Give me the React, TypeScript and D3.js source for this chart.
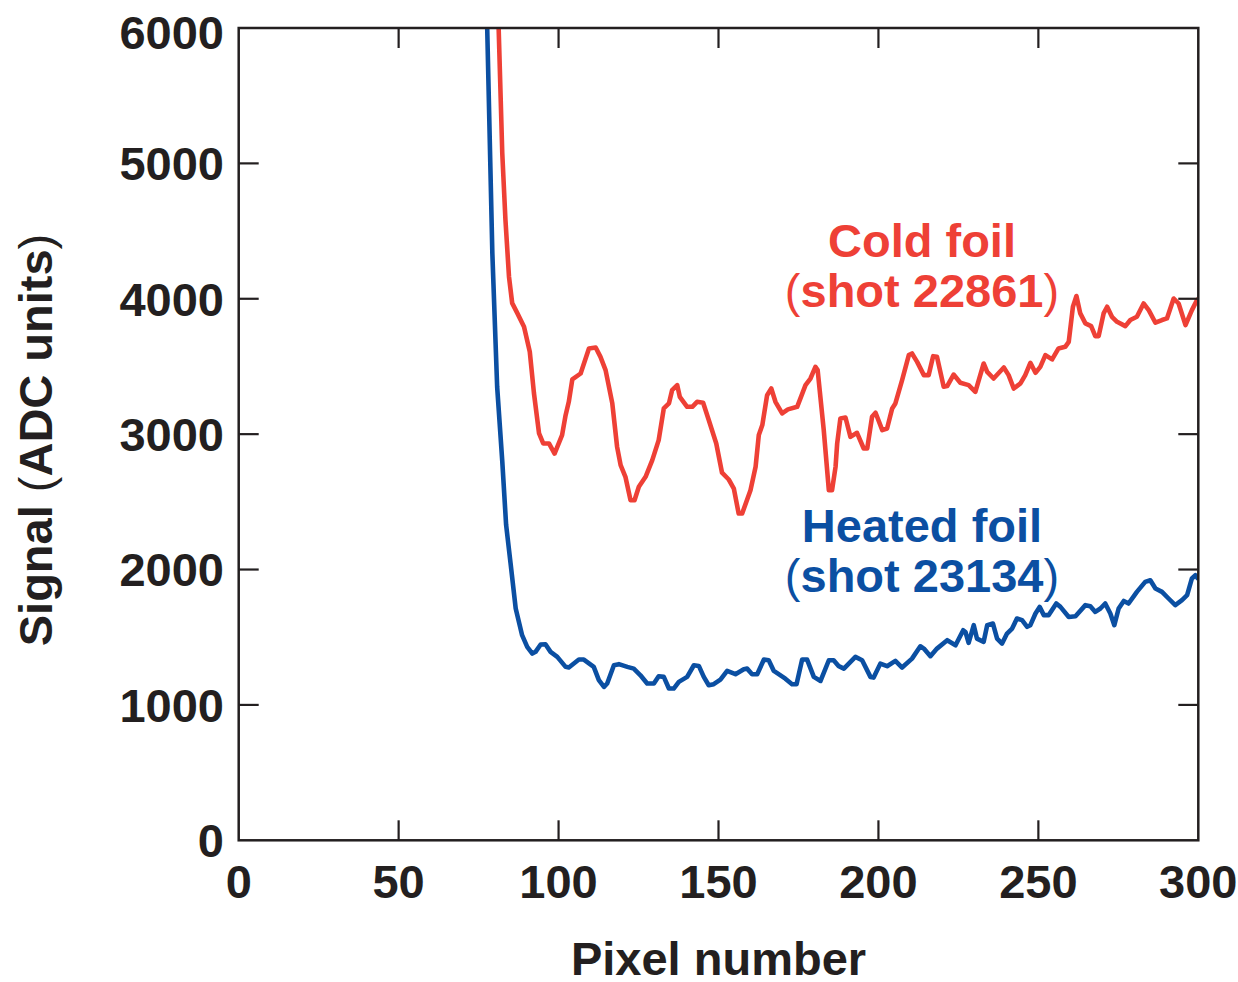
import * as d3 from "d3"

// Signal traces: [pixel number, signal in ADC units]
const coldFoil: [number, number][] = [
  [80.9, 6300], [82.4, 5075], [83.4, 4580], [84.5, 4163], [85.5, 3968], [87.1, 3894],
  [89.2, 3793], [91.0, 3608], [92.3, 3303], [93.9, 3005], [95.2, 2931], [97.0, 2931],
  [98.75, 2857], [101.1, 2993], [102.2, 3140], [103.2, 3239], [104.3, 3404], [106.9, 3448],
  [109.5, 3633], [111.6, 3640], [113.1, 3571], [114.7, 3473], [116.8, 3227], [118.3, 2906],
  [119.4, 2771], [120.9, 2685], [122.5, 2512], [123.75, 2512], [125.1, 2611], [127.2, 2685],
  [129.3, 2808], [131.3, 2956], [132.9, 3190], [134.5, 3227], [135.5, 3325], [137.1, 3362],
  [137.9, 3276], [140.2, 3202], [141.8, 3202], [143.3, 3239], [145.2, 3232], [146.95, 3104],
  [149.3, 2931], [151.1, 2715], [153.2, 2665], [154.8, 2598], [156.3, 2414], [157.4, 2414],
  [160.0, 2586], [161.6, 2759], [162.6, 2993], [163.7, 3067], [165.2, 3288], [166.5, 3337],
  [167.8, 3239], [169.9, 3153], [171.7, 3183], [174.6, 3202], [177.2, 3362], [178.75, 3411],
  [180.3, 3497], [181.0, 3473], [182.9, 3030], [184.5, 2586], [185.5, 2586], [186.6, 2759],
  [187.1, 2931], [188.1, 3116], [189.7, 3123], [191.25, 2980], [193.3, 3010], [195.4, 2894],
  [196.5, 2894], [198.0, 3128], [199.1, 3158], [201.2, 3030], [202.7, 3042], [204.3, 3190],
  [205.3, 3227], [207.4, 3399], [209.5, 3584], [210.5, 3596], [212.1, 3534], [214.2, 3436],
  [215.7, 3436], [217.1, 3576], [218.3, 3571], [220.4, 3350], [221.5, 3355], [223.5, 3440],
  [225.6, 3380], [228.2, 3362], [230.3, 3313], [232.9, 3522], [234.0, 3460], [236.0, 3411],
  [239.2, 3492], [240.7, 3436], [242.3, 3337], [244.4, 3375], [245.9, 3436], [247.5, 3527],
  [249.1, 3453], [250.6, 3497], [252.2, 3584], [254.3, 3552], [256.3, 3633], [258.4, 3645],
  [259.5, 3682], [260.8, 3941], [261.9, 4020], [263.1, 3892], [264.7, 3818], [266.5, 3798],
  [267.8, 3724], [268.85, 3724], [270.4, 3892], [271.5, 3941], [273.0, 3867], [274.6, 3830],
  [277.2, 3798], [278.75, 3843], [280.8, 3867], [282.9, 3965], [284.5, 3916], [286.6, 3823],
  [288.65, 3843], [290.2, 3855], [292.3, 4002], [293.85, 3965], [296.0, 3805], [298.0, 3916],
  [299.6, 3990], [300, 4000],
]

const heatedFoil: [number, number][] = [
  [77.4, 6300], [79.3, 4335], [80.8, 3350], [82.4, 2800], [83.6, 2330], [85.0, 2045],
  [86.6, 1712], [88.6, 1515], [90.2, 1429], [91.8, 1379], [92.8, 1392], [94.4, 1446],
  [95.9, 1448], [97.5, 1392], [99.6, 1355], [102.2, 1281], [103.2, 1276], [106.35, 1335],
  [107.9, 1335], [111.0, 1281], [112.6, 1183], [114.2, 1133], [115.2, 1158], [117.3, 1293],
  [118.85, 1301], [121.5, 1281], [123.5, 1268], [125.6, 1219], [127.7, 1158], [129.8, 1158],
  [131.3, 1212], [132.9, 1207], [134.5, 1121], [136.0, 1121], [137.6, 1170], [140.2, 1207],
  [142.3, 1293], [143.85, 1288], [145.4, 1207], [146.95, 1145], [148.5, 1153], [150.6, 1187],
  [152.7, 1251], [155.3, 1227], [157.9, 1264], [158.95, 1268], [160.5, 1227], [162.1, 1227],
  [164.2, 1335], [165.7, 1330], [167.3, 1251], [170.9, 1194], [173.0, 1153], [174.4, 1153],
  [176.15, 1335], [177.7, 1335], [179.8, 1207], [181.9, 1177], [184.5, 1330], [186.0, 1330],
  [187.6, 1286], [189.2, 1268], [192.8, 1355], [194.9, 1330], [197.5, 1207], [198.5, 1202],
  [200.6, 1305], [202.7, 1286], [205.3, 1325], [207.4, 1276], [210.5, 1342], [213.1, 1433],
  [214.2, 1416], [216.25, 1360], [218.3, 1416], [221.5, 1478], [224.1, 1441], [226.5, 1552],
  [227.2, 1539], [228.2, 1458], [229.8, 1589], [230.8, 1490], [232.9, 1466], [234.0, 1589],
  [235.8, 1601], [237.1, 1490], [238.65, 1453], [240.2, 1527], [241.8, 1564], [243.3, 1638],
  [244.9, 1626], [246.5, 1577], [247.5, 1589], [249.1, 1675], [250.4, 1724], [251.7, 1663],
  [253.2, 1663], [255.6, 1749], [256.9, 1724], [259.5, 1650], [261.6, 1655], [264.7, 1737],
  [266.25, 1729], [267.8, 1687], [269.4, 1712], [270.9, 1749], [272.5, 1675], [273.75, 1589],
  [275.1, 1712], [276.7, 1768], [278.2, 1749], [280.8, 1835], [283.4, 1909], [285.0, 1921],
  [286.6, 1860], [288.65, 1835], [290.7, 1786], [292.8, 1737], [294.9, 1774], [296.5, 1811],
  [298.0, 1934], [299.1, 1958], [300, 1930],
]

const xTicks = [0, 50, 100, 150, 200, 250, 300]
const yTicks = [0, 1000, 2000, 3000, 4000, 5000, 6000]

const WIDTH = 1238
const HEIGHT = 982
const INK = "#231f20"
const RED = "#ee4036"
const BLUE = "#0b4fa2"
const FONT = "'Liberation Sans', Arial, Helvetica, sans-serif"
const FS = 47

export default function App() {
  const x = d3.scaleLinear().domain([0, 300]).range([238.7, 1198.3])
  const y = d3.scaleLinear().domain([0, 6000]).range([840.3, 28])
  const [x0, x1] = x.range()
  const [y0, y1] = y.range()

  const line = d3
    .line<[number, number]>()
    .x((d) => x(d[0]))
    .y((d) => y(d[1]))
    .curve(d3.curveLinear)

  const tickLen = 20
  const inner = (ticks: number[]) => ticks.filter((t, i) => i > 0 && i < ticks.length - 1)

  return (
    <svg
      width={WIDTH}
      height={HEIGHT}
      style={{ position: "absolute", left: 0, top: 0, background: "#fff" }}
      fontFamily={FONT}
    >
      <defs>
        <clipPath id="plot-clip">
          <rect x={x0} y={y1} width={x1 - x0} height={y0 - y1} />
        </clipPath>
      </defs>

      {/* curves */}
      <g clipPath="url(#plot-clip)" fill="none" strokeWidth={4.6} strokeLinejoin="round">
        <path d={line(coldFoil) ?? ""} stroke={RED} />
        <path d={line(heatedFoil) ?? ""} stroke={BLUE} />
      </g>

      {/* frame + inward ticks on all four sides */}
      <rect x={x0} y={y1} width={x1 - x0} height={y0 - y1} fill="none" stroke={INK} strokeWidth={2.5} />
      <g stroke={INK} strokeWidth={2.2}>
        {inner(xTicks).map((t) => (
          <g key={`xt${t}`}>
            <line x1={x(t)} x2={x(t)} y1={y0} y2={y0 - tickLen} />
            <line x1={x(t)} x2={x(t)} y1={y1} y2={y1 + tickLen} />
          </g>
        ))}
        {inner(yTicks).map((t) => (
          <g key={`yt${t}`}>
            <line x1={x0} x2={x0 + tickLen} y1={y(t)} y2={y(t)} />
            <line x1={x1} x2={x1 - tickLen} y1={y(t)} y2={y(t)} />
          </g>
        ))}
      </g>

      {/* tick labels */}
      <g fill={INK} fontSize={FS} fontWeight={700}>
        {xTicks.map((t) => (
          <text key={`xl${t}`} x={x(t)} y={898} textAnchor="middle">
            {t}
          </text>
        ))}
        {yTicks.map((t) => (
          <text key={`yl${t}`} x={224} y={y(t) + FS * 0.358 + (t === 6000 ? 4 : 0)} textAnchor="end">
            {t}
          </text>
        ))}
      </g>

      {/* axis titles */}
      <text x={718.5} y={975} textAnchor="middle" fill={INK} fontSize={FS} fontWeight={700}>
        Pixel number
      </text>
      <text
        transform="translate(52,440) rotate(-90)"
        textAnchor="middle"
        fill={INK}
        fontSize={FS}
        fontWeight={700}
      >
        Signal <tspan fontWeight={400}>(</tspan>ADC units<tspan fontWeight={400}>)</tspan>
      </text>

      {/* annotations */}
      <g fontSize={FS} fontWeight={700} textAnchor="middle">
        <text x={922} y={257} fill={RED}>Cold foil</text>
        <text x={922} y={307} fill={RED}>
          <tspan fontWeight={400}>(</tspan>shot 22861<tspan fontWeight={400}>)</tspan>
        </text>
        <text x={922} y={542} fill={BLUE}>Heated foil</text>
        <text x={922} y={592} fill={BLUE}>
          <tspan fontWeight={400}>(</tspan>shot 23134<tspan fontWeight={400}>)</tspan>
        </text>
      </g>
    </svg>
  )
}
